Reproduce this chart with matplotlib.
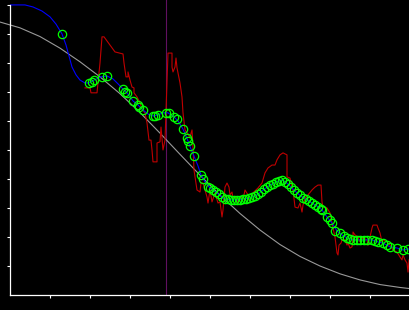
import numpy as np
import matplotlib
matplotlib.use('Agg')
import matplotlib.pyplot as plt

# observed series (red)
obs_x = [18.75, 20.0, 20.25, 21.75, 22.0, 22.5, 23.0, 23.5, 26.25, 28.25, 28.5, 29.0, 29.5, 29.5,
         30.0, 30.5, 31.0, 31.0, 31.75, 32.5, 33.0, 33.75, 34.25, 34.75, 35.25, 35.5, 35.75, 36.75,
         36.75, 37.5, 37.75, 38.0, 38.25, 38.75, 39.5, 40.5, 40.5, 40.75, 41.25, 41.5, 41.75, 42.5,
         43.0, 43.25, 43.75, 45.0, 45.5, 45.75, 46.0, 46.75, 47.5, 47.75, 48.25, 48.75, 49.25, 49.5,
         50.0, 50.5, 51.25, 52.0, 52.5, 53.0, 53.25, 53.75, 54.25, 54.75, 55.0, 55.5, 55.75, 56.75,
         57.0, 58.0, 58.25, 58.75, 59.5, 60.0, 60.75, 62.0, 63.0, 63.75, 64.5, 65.5, 66.25, 66.75,
         67.5, 68.25, 69.25, 69.25, 70.0, 70.5, 70.75, 71.25, 72.0, 72.5, 73.0, 73.25, 73.75, 74.5,
         75.5, 76.25, 77.0, 77.75, 78.0, 78.25, 79.25, 80.0, 80.75, 81.25, 81.75, 82.0, 82.25, 82.75,
         83.0, 83.75, 84.25, 84.5, 85.0, 85.5, 85.75, 85.75, 86.25, 87.0, 87.5, 88.25, 89.25, 89.5,
         90.0, 90.5, 90.75, 91.75, 92.0, 92.5, 93.0, 93.25, 94.25, 95.0, 95.75, 96.75, 97.5, 98.0,
         98.25, 98.75, 99.25, 99.5, 99.75]
obs_y = [71.4, 71.4, 69.7, 69.7, 73.1, 80.0, 89.0, 89.0, 83.8, 83.1, 80.0, 75.2, 75.2, 76.9,
         74.1, 71.7, 71.4, 69.7, 68.3, 66.2, 64.1, 62.8, 59.3, 53.4, 53.4, 50.0, 45.9, 45.9,
         52.4, 52.8, 57.9, 54.1, 50.0, 53.4, 83.4, 83.4, 78.6, 76.9, 78.6, 81.7, 78.3, 73.1,
         68.3, 62.8, 56.9, 54.5, 56.9, 51.0, 43.1, 36.2, 35.5, 38.6, 38.6, 36.2, 33.8, 31.7,
         36.2, 32.1, 35.2, 31.7, 32.1, 26.9, 29.3, 37.2, 38.6, 37.2, 34.5, 35.5, 33.4, 33.8,
         31.7, 33.8, 32.8, 36.2, 34.5, 32.1, 35.2, 36.9, 38.6, 42.1, 43.8, 44.8, 44.8, 46.6,
         48.3, 49.0, 48.3, 40.7, 40.3, 37.2, 36.2, 30.3, 30.0, 31.7, 28.6, 31.0, 33.4, 34.5,
         36.2, 37.2, 37.9, 37.9, 32.1, 30.3, 30.0, 28.3, 23.1, 20.0, 14.5, 13.8, 17.2, 17.9,
         19.0, 19.0, 17.2, 17.9, 16.2, 16.6, 19.7, 21.7, 20.7, 20.0, 18.3, 19.7, 19.0, 17.2,
         20.0, 23.1, 24.1, 24.1, 23.1, 21.4, 18.3, 19.0, 18.3, 17.2, 15.5, 14.8, 13.1, 12.1,
         13.8, 12.1, 11.0, 7.9, 12.1]

# smoothed fit (blue)
fit_x = [0, 3.75, 5.75, 8.0, 10.0, 11.5, 13.0, 14.0, 14.75, 15.5, 16.5, 17.5, 18.75, 19.75,
         21.0, 22.75, 24.25, 25.75, 27.0, 28.25, 29.25, 30.75, 32.0, 33.25, 34.5, 35.75, 37.0,
         38.25, 39.5, 41.0, 42.0, 43.25, 44.5, 45.25, 46.0, 47.0, 47.75, 48.75, 50.0, 51.75,
         53.25, 55.0, 56.75, 58.25, 60.0, 61.75, 63.25, 65.0, 66.75, 68.0, 69.25, 70.5, 71.75,
         73.0, 74.25, 75.5, 76.75, 78.0, 79.25, 80.5, 81.75, 83.0, 84.25, 85.75, 87.5, 89.25,
         90.5, 92.0, 93.25, 95.0, 96.75, 98.25, 99.75]
fit_y = [100.0, 100.0, 99.3, 97.9, 95.9, 93.4, 90.0, 86.2, 82.4, 78.6, 75.9, 74.1, 73.1, 73.1,
         74.1, 75.2, 75.5, 74.5, 72.8, 71.0, 69.7, 66.9, 65.5, 63.8, 62.4, 61.7, 62.1,
         62.8, 62.8, 61.4, 60.0, 57.2, 53.1, 50.3, 47.9, 44.5, 41.4, 39.0, 36.9, 35.2,
         33.4, 32.8, 32.8, 33.1, 33.4, 34.5, 36.2, 37.9, 39.0, 39.7, 38.6, 36.9, 35.2,
         33.8, 32.8, 31.7, 30.7, 29.3, 26.9, 24.8, 22.1, 20.7, 19.7, 19.0, 19.0, 19.0,
         19.0, 18.3, 17.9, 16.6, 16.2, 15.5, 15.9]

# sample points (green circles)
pts_x = [13.0, 19.75, 20.5, 21.0, 23.0, 24.25, 28.25, 28.75, 29.25, 30.75, 32.0, 32.25, 33.25,
         35.75, 36.25, 37.0, 39.0, 39.75, 41.0, 41.75, 43.25, 44.25, 44.5, 45.0, 46.0, 47.75,
         48.25, 49.5,
         50.0, 50.75, 51.5, 52.25, 53.0, 53.75, 54.5, 55.25, 56.0, 56.75, 57.5, 58.25, 59.0,
         59.75, 60.5, 61.25, 62.0, 62.75, 63.5, 64.25, 65.0, 65.75, 66.5, 67.25, 68.0, 68.75,
         69.5, 70.25, 71.0, 71.75, 72.5, 73.25, 74.0, 74.75, 75.5, 76.25, 77.0, 77.75,
         78.0, 79.25, 80.0, 80.5, 81.25, 82.5, 83.5, 84.25, 85.0, 85.75, 86.75, 87.5, 88.5,
         89.25, 90.5, 91.25, 92.0, 93.25, 94.25, 95.0, 96.75, 98.25, 99.5]
pts_y = [90.0, 73.1, 73.4, 74.1, 75.2, 75.5, 71.0, 70.0, 69.7, 66.9, 65.5, 64.8, 63.8,
         61.7, 61.7, 62.1, 62.8, 62.8, 61.4, 60.7, 57.2, 54.1, 53.1, 51.4, 47.9, 41.4,
         40.0, 37.2,
         36.9, 36.2, 35.4, 34.8, 33.7, 33.2, 33.0, 32.8, 32.8, 32.8, 32.9, 33.1, 33.2,
         33.4, 33.7, 34.2, 34.7, 35.6, 36.4, 37.2, 37.9, 38.4, 38.9, 39.3, 39.7, 39.1,
         38.3, 37.3, 36.2, 35.2, 34.4, 33.6, 33.0, 32.4, 31.7, 31.1, 30.5, 29.6,
         29.3, 26.9, 25.9, 24.8, 22.1, 21.4, 20.3, 19.7, 19.3, 19.0, 19.0, 19.0, 19.0,
         19.0, 19.0, 18.7, 18.3, 17.9, 17.3, 16.6, 16.2, 15.5, 15.9]

# prior mean (grey)
prior_x = [-2.5, 2.5, 7.5, 12.5, 17.5, 22.5, 27.5, 32.5, 37.5, 42.5, 47.5, 52.5, 57.5, 62.5,
           67.5, 72.5, 77.5, 82.5, 87.5, 92.5, 97.5, 100]
prior_y = [94.1, 92.1, 89.1, 85.1, 80.4, 75.2, 69.4, 62.9, 55.8, 48.5, 41.3, 34.4, 28.1, 22.4,
           17.4, 13.3, 10.0, 7.3, 5.2, 3.6, 2.6, 2.2]

change_point = 38.9

fig = plt.figure(figsize=(4.1, 3.1), dpi=100, facecolor='black')
ax = fig.add_axes([10 / 410, 15 / 310, 400 / 410, 295 / 310], facecolor='black')

ax.axvline(change_point, color='#601060', lw=0.8)
ax.plot(prior_x, prior_y, color='#999999', lw=0.8, clip_on=False)
ax.plot(obs_x, obs_y, color='#c00000', lw=0.8)
ax.plot(fit_x, fit_y, color='#0000ff', lw=0.8)
ax.plot(pts_x, pts_y, 'o', mfc='none', mec='#00ff00', ms=6, mew=0.9)

ax.set_xlim(0, 100)
ax.set_ylim(0, 101.7)
ax.set_xticks(np.arange(10, 101, 10))
ax.set_yticks(np.arange(10, 101, 10))
ax.tick_params(colors='white', length=2.5, width=0.8, direction='out',
               labelbottom=False, labelleft=False)
for side in ['top', 'right']:
    ax.spines[side].set_visible(False)
for side in ['left', 'bottom']:
    ax.spines[side].set_color('white')
    ax.spines[side].set_linewidth(0.9)
ax.spines['left'].set_bounds(0, 100)

fig.savefig('out.png', dpi=100, facecolor='black')
